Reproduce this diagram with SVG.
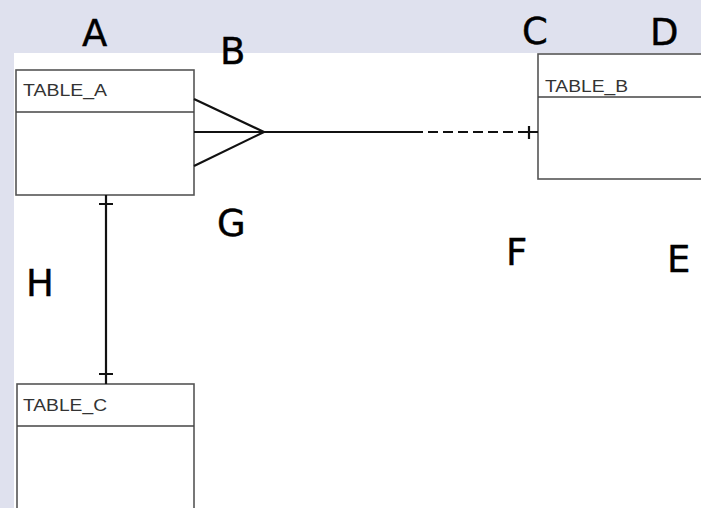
<svg xmlns="http://www.w3.org/2000/svg" width="701" height="508" viewBox="0 0 701 508">
<style>
.tbl{fill:#fff;stroke:#555;stroke-width:1.6}
.sep{stroke:#444;stroke-width:1.6}
.tt{font-family:"Liberation Sans",Arial,sans-serif;font-size:16px;fill:#333}
.con{stroke:#111;stroke-width:2.2;fill:none}
.lbl{font-family:"DejaVu Sans","Noto Sans",sans-serif;font-size:37px;fill:#000;stroke:#000;stroke-width:0.4}
</style>
<rect x="0" y="0" width="701" height="508" fill="#dfe1ee"/>
<rect x="14" y="53" width="687" height="455" fill="#fff"/>
<g id="table_a">
<rect class="tbl" x="16" y="70" width="178" height="125"/>
<line class="sep" x1="16" y1="112" x2="194" y2="112"/>
<text class="tt" x="23" y="96" textLength="84" lengthAdjust="spacingAndGlyphs">TABLE_A</text>
</g>
<g id="table_b">
<rect class="tbl" x="538" y="54" width="180" height="125"/>
<line class="sep" x1="538" y1="97" x2="701" y2="97"/>
<text class="tt" x="545" y="92" textLength="83" lengthAdjust="spacingAndGlyphs">TABLE_B</text>
</g>
<g id="table_c">
<rect class="tbl" x="17" y="384" width="177" height="140"/>
<line class="sep" x1="17" y1="426" x2="194" y2="426"/>
<text class="tt" x="23" y="411" textLength="84" lengthAdjust="spacingAndGlyphs">TABLE_C</text>
</g>
<g id="connectors">
<path class="con" d="M194 99 L264 132 L194 166 M194 132 L413 132"/>
<path class="con" d="M413 132 L529 132" stroke-dasharray="10 5"/>
<path class="con" d="M529 132 L538 132 M529 126 L529 139"/>
<path class="con" d="M106 195 L106 384 M99 204 L113 204 M99 374 L113 374"/>
</g>
<g id="labels">
<text class="lbl" x="82" y="46">A</text>
<text class="lbl" x="220" y="64">B</text>
<text class="lbl" x="522" y="44">C</text>
<text class="lbl" x="650" y="45">D</text>
<text class="lbl" x="217" y="236">G</text>
<text class="lbl" x="506" y="265">F</text>
<text class="lbl" x="667" y="272">E</text>
<text class="lbl" x="26" y="296">H</text>
</g>
</svg>
